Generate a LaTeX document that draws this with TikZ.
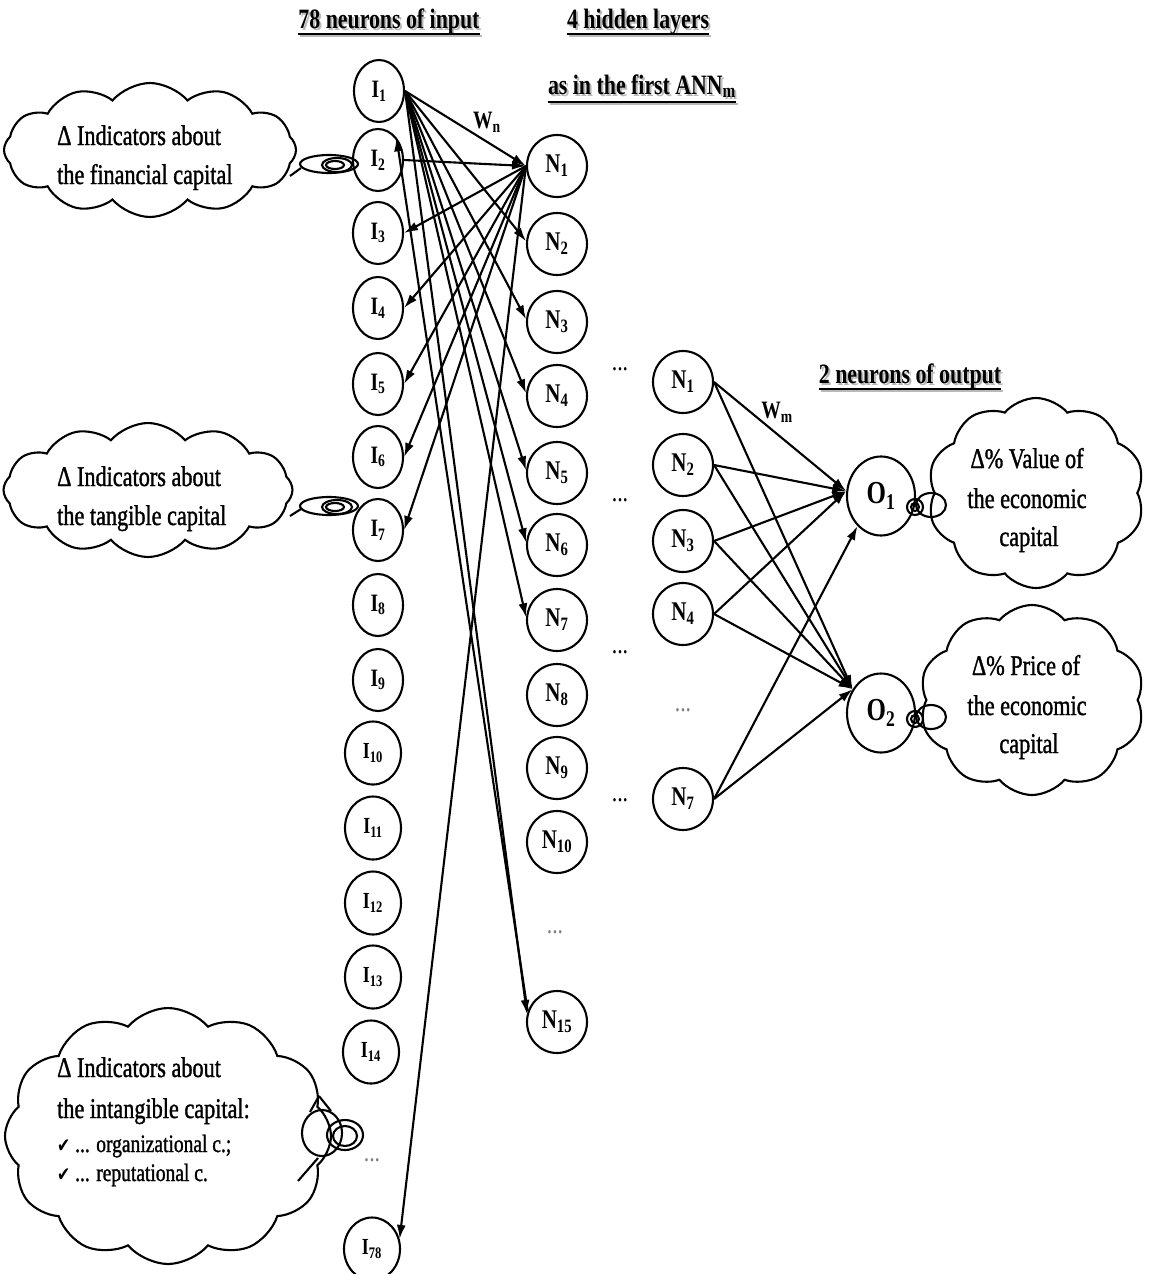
\documentclass[tikz,border=0pt]{standalone}
\usepackage{fontspec}
\setmainfont{Liberation Serif}[FakeStretch=0.78]
\newfontfamily\cloudfont{Liberation Serif}[FakeStretch=0.78,FakeBold=1.2]
\newfontfamily\chkfont{DejaVu Sans}[FakeStretch=0.78]
\usetikzlibrary{arrows.meta,shapes.symbols,shapes.geometric}
\newcommand\hdrtxt[1]{\leavevmode\rlap{\kern2pt\raisebox{-2pt}{\textcolor{gray!55}{#1}}}#1}
\begin{document}
\begin{tikzpicture}[x=1pt,y=-1pt,
  lw/.style={line width=2.1pt},
  inp/.style={ellipse,draw,lw,minimum width=50pt,minimum height=62pt,inner sep=0pt,font=\fontsize{25}{27}\selectfont\bfseries},
  inpb/.style={inp,minimum width=56pt,minimum height=63pt,font=\fontsize{23}{25}\selectfont\bfseries},
  hid/.style={ellipse,draw,lw,minimum width=60pt,minimum height=62pt,inner sep=0pt,font=\fontsize{27}{29}\selectfont\bfseries},
  outn/.style={ellipse,draw,lw,minimum width=68pt,minimum height=79pt,inner sep=0pt,font=\fontsize{32}{34}\selectfont\bfseries},
  cloudsh/.style={cloud,draw,lw,cloud puffs=11,cloud puff arc=100,inner sep=0pt},
  hdr/.style={font=\fontsize{28}{30}\selectfont\bfseries,inner sep=0pt,anchor=base},
  ctext/.style={font=\cloudfont\fontsize{28.5}{34}\selectfont,inner sep=0pt,anchor=base west},
  ctextc/.style={font=\cloudfont\fontsize{28.5}{34}\selectfont,inner sep=0pt,anchor=base},
  stext/.style={font=\cloudfont\fontsize{25}{28}\selectfont,inner sep=0pt,anchor=base west},
  dotsn/.style={font=\fontsize{28}{30}\selectfont,inner sep=0pt},
  wlab/.style={font=\fontsize{25}{27}\selectfont\bfseries,inner sep=0pt},
  conn/.style={lw,-{Latex[length=14pt,width=9pt]}}
]
\useasboundingbox (0,0) rectangle (1149,1274);

% headers
\node[hdr] (h1) at (389,28) {\hdrtxt{78 neurons of input}};
\node[hdr] (h2) at (638,28) {\hdrtxt{4 hidden layers}};
\node[hdr] (h3) at (642,94) {\hdrtxt{as in the first ANN\textsubscript{m}}};
\node[hdr] (h4) at (910,383) {\hdrtxt{2 neurons of output}};
\foreach \h/\d in {h1/6,h2/6,h3/8,h4/6}{
  \draw[line width=2pt,gray!55] ([xshift=2pt,yshift=-\d pt-2pt]\h.base west) -- ([xshift=2pt,yshift=-\d pt-2pt]\h.base east);
  \draw[line width=2pt] ([yshift=-\d pt]\h.base west) -- ([yshift=-\d pt]\h.base east);
}

% clouds
\node[cloudsh,minimum width=292pt,minimum height=134pt,cloud puffs=12] (c1) at (150,150) {};
\node[cloudsh,minimum width=289pt,minimum height=134pt,cloud puffs=12] (c2) at (148,490) {};
\node[cloudsh,minimum width=326pt,minimum height=256pt,cloud puffs=12] (c3) at (168,1136) {};
\node[cloudsh,minimum width=217pt,minimum height=190pt,cloud puffs=10] (c4) at (1036,493) {};
\node[cloudsh,minimum width=225pt,minimum height=190pt,cloud puffs=10] (c5) at (1032,700) {};

\node[ctext] (t1a) at (57,145) {Δ Indicators about};
\node[ctext] (t1b) at (57,184) {the financial capital};
\node[ctext] (t2a) at (57,486) {Δ Indicators about};
\node[ctext] (t2b) at (57,525) {the tangible capital};
\node[ctext] (t3a) at (57,1077) {Δ Indicators about};
\node[ctext] (t3b) at (57,1118) {the intangible capital:};
\node[stext] (t3c) at (57,1152) {{\chkfont\fontsize{20}{22}\selectfont ✔} ... organizational c.;};
\node[stext] (t3d) at (57,1181) {{\chkfont\fontsize{20}{22}\selectfont ✔} ... reputational c.};
\node[ctextc] (t4a) at (1027,468) {Δ\% Value of};
\node[ctextc] (t4b) at (1027,508) {the economic};
\node[ctextc] (t4c) at (1029,546) {capital};
\node[ctextc] (t5a) at (1026,675) {Δ\% Price of};
\node[ctextc] (t5b) at (1027,715) {the economic};
\node[ctextc] (t5c) at (1029,753) {capital};

% thought-bubble connectors
\draw[lw] (290,176) -- (301,168);
\draw[lw] (329,164) ellipse [x radius=29, y radius=9];
\draw[lw] (337,165) ellipse [x radius=15, y radius=7];
\draw[lw] (335,165) ellipse [x radius=9, y radius=4];
\draw[lw] (290,516) -- (301,509);
\draw[lw] (329,506) ellipse [x radius=29, y radius=9];
\draw[lw] (337,507) ellipse [x radius=15, y radius=7];
\draw[lw] (335,507) ellipse [x radius=9, y radius=4];
\draw[lw] (319,1096) -- (310,1112);
\draw[lw] (319,1096) -- (331,1111);
\draw[lw] (318,1158) -- (298,1181);
\draw[lw] (322,1133) ellipse [x radius=20, y radius=23];
\draw[lw] (345,1135) ellipse [x radius=18, y radius=15];
\draw[lw] (345,1136) ellipse [x radius=12, y radius=10];
\draw[lw] (931,505) ellipse [x radius=15, y radius=12];
\draw[lw] (915,507) circle [radius=8];
\draw[lw] (915,507) circle [radius=4];
\draw[lw] (931,717) ellipse [x radius=15, y radius=12];
\draw[lw] (915,719) circle [radius=8];
\draw[lw] (915,719) circle [radius=4];

% input neurons
\node[inp] (I1) at (379,91) {I\textsubscript{1}};
\node[inp] (I2) at (378,160) {I\textsubscript{2}};
\node[inp] (I3) at (378,233) {I\textsubscript{3}};
\node[inp] (I4) at (378,308) {I\textsubscript{4}};
\node[inp] (I5) at (378,384) {I\textsubscript{5}};
\node[inp] (I6) at (378,457) {I\textsubscript{6}};
\node[inp] (I7) at (378,530) {I\textsubscript{7}};
\node[inp] (I8) at (378,605) {I\textsubscript{8}};
\node[inp] (I9) at (378,680) {I\textsubscript{9}};
\node[inpb] (I10) at (373,753) {I\textsubscript{10}};
\node[inpb] (I11) at (373,828) {I\textsubscript{11}};
\node[inpb] (I12) at (373,903) {I\textsubscript{12}};
\node[inpb] (I13) at (373,977) {I\textsubscript{13}};
\node[inpb] (I14) at (371,1052) {I\textsubscript{14}};
\node[dotsn,text=gray] (Id) at (372,1160) {...};
\node[inpb] (I78) at (372,1249) {I\textsubscript{78}};

% first hidden layer
\node[hid] (N1) at (557,166) {N\textsubscript{1}};
\node[hid] (N2) at (557,244) {N\textsubscript{2}};
\node[hid] (N3) at (557,322) {N\textsubscript{3}};
\node[hid] (N4) at (557,396) {N\textsubscript{4}};
\node[hid] (N5) at (557,473) {N\textsubscript{5}};
\node[hid] (N6) at (557,545) {N\textsubscript{6}};
\node[hid] (N7) at (557,620) {N\textsubscript{7}};
\node[hid] (N8) at (557,695) {N\textsubscript{8}};
\node[hid] (N9) at (557,768) {N\textsubscript{9}};
\node[hid] (N10) at (557,842) {N\textsubscript{10}};
\node[dotsn,text=gray] (Nd) at (555,932) {...};
\node[hid] (N15) at (557,1022) {N\textsubscript{15}};

% last hidden layer
\node[hid] (M1) at (683,382) {N\textsubscript{1}};
\node[hid] (M2) at (683,465) {N\textsubscript{2}};
\node[hid] (M3) at (683,541) {N\textsubscript{3}};
\node[hid] (M4) at (683,614) {N\textsubscript{4}};
\node[dotsn,text=gray] (Md) at (683,710) {...};
\node[hid] (M7) at (683,799) {N\textsubscript{7}};
\node[dotsn] (d1) at (620,369) {...};
\node[dotsn] (d2) at (620,500) {...};
\node[dotsn] (d3) at (620,652) {...};
\node[dotsn] (d4) at (620,800) {...};

% outputs
\node[outn] (O1) at (881,496) {O\textsubscript{1}};
\node[outn] (O2) at (881,713) {O\textsubscript{2}};

% input -> hidden connections
\draw[conn] (I1.east) -- (N1.west);
\foreach \n in {N2,N3,N4,N5,N6,N7}{\draw[conn] (I1.east) -- (\n.175);}
\draw[conn] (I1.east) -- (N15.165);
\draw[conn] (I2.east) -- (N1.west);
\foreach \i in {I3,I4,I5,I6,I7}{\draw[conn] (N1.west) -- (\i.east);}
\draw[conn] (N1.west) -- (I78.20);
\draw[conn] (N15.160) -- (I2.north east);
\node[wlab] (wn) at (487,122) {W\textsubscript{n}};

% hidden -> output connections
\foreach \m in {M1,M2,M3,M4}{\draw[conn] (\m.east) -- (O1.172);}
\draw[conn] (M7.east) -- (O1.232);
\foreach \m in {M1,M2,M3,M4,M7}{\draw[conn] (\m.east) -- (O2.140);}
\node[wlab] (wm) at (777,412) {W\textsubscript{m}};
\end{tikzpicture}
\end{document}
